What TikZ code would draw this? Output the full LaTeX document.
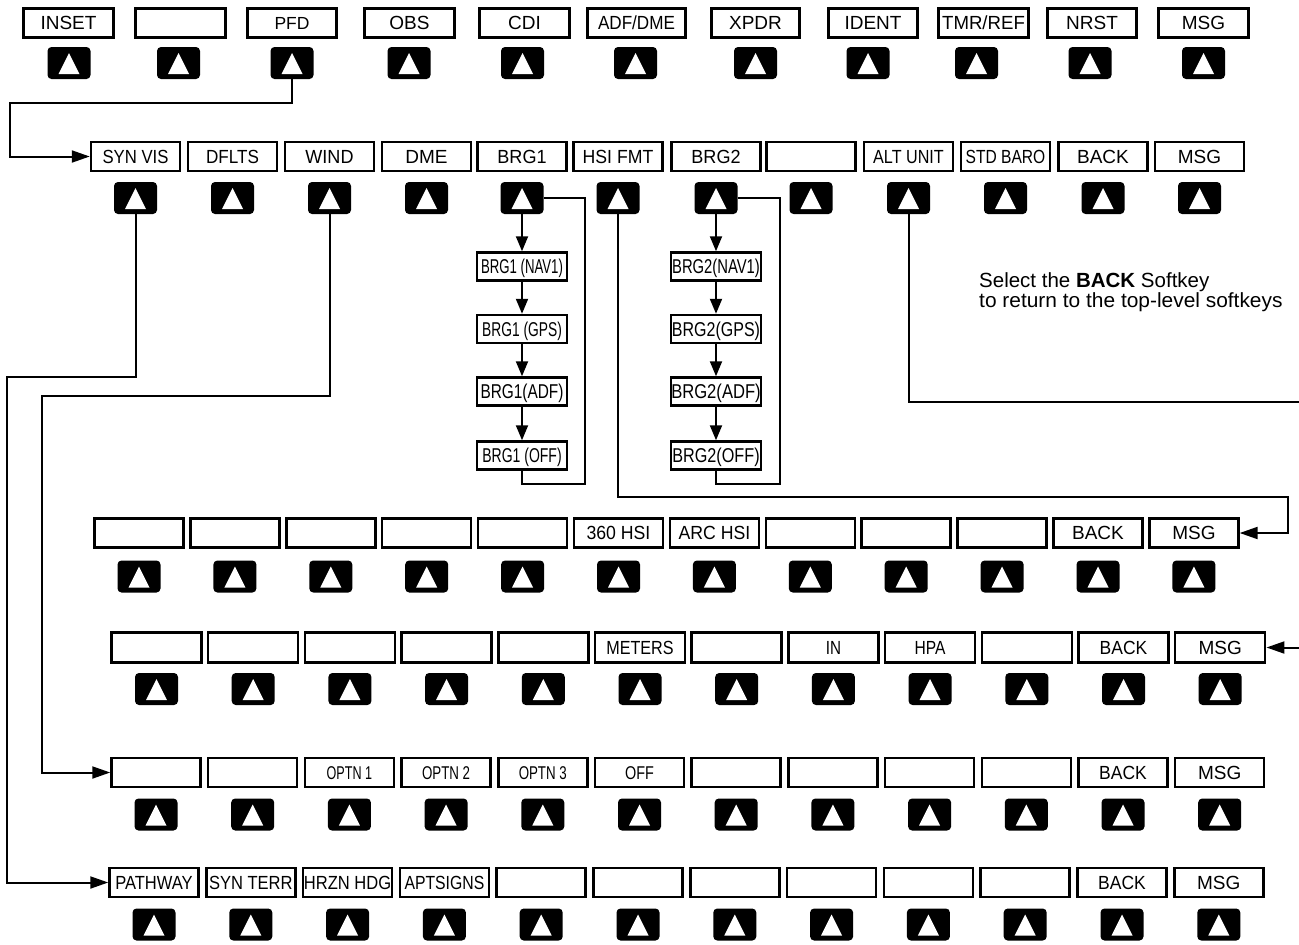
\documentclass[tikz,border=0pt]{standalone}
\usepackage{fontspec}
\setmainfont{Liberation Sans}
\usepackage{graphicx}
\usetikzlibrary{arrows.meta}
\newcommand\sx[2]{\scalebox{#1}[1]{#2}}
\newcommand\fsz[1]{\fontsize{#1}{#1}\selectfont}
\tikzset{
 skbox/.style={draw, line width=2.5pt, minimum width=89pt, minimum height=29pt, inner sep=0pt, text height=13.6pt, text depth=0pt, font=\fsz{19}},
 brgbox/.style={skbox, minimum width=90pt, minimum height=28pt, font=\fsz{20}, text height=14.3pt},
 key/.style={fill=black, rounded corners=4pt, minimum width=43pt, minimum height=32pt, inner sep=0pt,
   path picture={\fill[white, sharp corners] ([xshift=-10.5pt,yshift=-11pt]path picture bounding box.center) -- ([xshift=10.5pt,yshift=-11pt]path picture bounding box.center) -- ([yshift=10pt]path picture bounding box.center) -- cycle;}},
 link/.style={line width=2pt},
 arr/.style={link, -{Triangle[length=18pt,width=12pt]}},
 varr/.style={link, -{Triangle[length=15pt,width=12pt]}},
}
\begin{document}
\begin{tikzpicture}[x=1pt,y=-1pt]
\clip (0,0) rectangle (1299,945);
\fill[white] (0,0) rectangle (1299,945);
% row 1
\foreach \i/\cx/\w/\kx/\t in {
 1/68.5/90/69/INSET,
 2/180.5/90/178.5/{},
 3/292/89/292/{\fsz{17.5}PFD},
 4/409.5/90/409/OBS,
 5/524.5/90/522.5/CDI,
 6/636.5/98/635.5/{\sx{0.9}{ADF/DME}},
 7/755.5/88/755.5/XPDR,
 8/873/89/868/IDENT,
 9/983.5/90/976.5/{\sx{0.98}{TMR/REF}},
 10/1092/89/1090/NRST,
 11/1203.5/90/1203.5/MSG}
{\node[skbox, minimum width=\w pt] (r1b\i) at (\cx,23) {\t};
 \node[key] (r1k\i) at (\kx,63) {};}
% row 2
\foreach \i/\cx/\t in {1/135.5/{\sx{0.88}{SYN VIS}}, 2/232.5/{\sx{0.9}{DFLTS}}, 3/329.5/{\sx{0.95}{WIND}}, 4/426.5/DME, 5/522/{\sx{0.95}{BRG1}}, 6/618/{\sx{0.93}{HSI FMT}}, 7/716/{\sx{0.95}{BRG2}}, 8/811/{}, 9/908.5/{\sx{0.85}{ALT UNIT}}, 10/1005.5/{\sx{0.82}{STD BARO}}, 11/1103/BACK, 12/1199.5/MSG}
{\node[skbox] (r2b\i) at (\cx,156.5) {\t};
 \node[key] (r2k\i) at (\cx,198) {};}
% row 3 (HSI FMT)
\foreach \t [count=\i] in {{},{},{},{},{},{\sx{0.93}{360 HSI}},{\sx{0.93}{ARC HSI}},{},{},{},BACK,MSG}
{\pgfmathsetmacro\cx{139+95.9*(\i-1)}
 \node[skbox] (r3b\i) at (\cx,533) {\t};
 \node[key] (r3k\i) at (\cx,576.5) {};}
% row 4 (ALT UNIT)
\foreach \t [count=\i] in {{},{},{},{},{},{\sx{0.85}{METERS}},{},{\sx{0.8}{IN}},{\sx{0.82}{HPA}},{},{\sx{0.92}{BACK}},MSG}
{\pgfmathsetmacro\cx{156.5+96.7*(\i-1)}
 \node[skbox, minimum width=90pt, minimum height=30pt] (r4b\i) at (\cx,647.5) {\t};
 \node[key] (r4k\i) at (\cx,689) {};}
% row 5 (WIND)
\foreach \t [count=\i] in {{},{},{\fsz{18.5}\sx{0.68}{OPTN 1}},{\fsz{18.5}\sx{0.72}{OPTN 2}},{\fsz{18.5}\sx{0.72}{OPTN 3}},{\fsz{18.5}\sx{0.78}{OFF}},{},{},{},{},{\sx{0.92}{BACK}},MSG}
{\pgfmathsetmacro\cx{156+96.7*(\i-1)}
 \node[skbox] (r5b\i) at (\cx,772.5) {\t};
 \node[key] (r5k\i) at (\cx,814.5) {};}
% row 6 (SYN VIS)
\foreach \t [count=\i] in {{\sx{0.87}{PATHWAY}},{\sx{0.87}{SYN TERR}},{\sx{0.87}{HRZN HDG}},{\sx{0.83}{APTSIGNS}},{},{},{},{},{},{},{\sx{0.92}{BACK}},MSG}
{\pgfmathsetmacro\cx{154+96.8*(\i-1)}
 \node[skbox] (r6b\i) at (\cx,882.5) {\t};
 \node[key] (r6k\i) at (\cx,924.5) {};}
% bearing chains
\foreach \n/\y/\ta/\sa/\tb/\sb in {n/266.5/{BRG1 (NAV1)}/0.66/{BRG2(NAV1)}/0.74, g/329/{BRG1 (GPS)}/0.69/{BRG2(GPS)}/0.8, a/391.5/{BRG1(ADF)}/0.77/{BRG2(ADF)}/0.83, o/455.5/{BRG1 (OFF)}/0.7/{BRG2(OFF)}/0.81}
{\node[brgbox] (b1\n) at (522,\y) {\sx{\sa}{\ta}};
 \node[brgbox] (b2\n) at (716,\y) {\sx{\sb}{\tb}};}
\foreach \b/\k in {1/5,2/7}{
 \draw[varr] (r2k\k.south) -- (b\b n.north);
 \draw[varr] (b\b n.south) -- (b\b g.north);
 \draw[varr] (b\b g.south) -- (b\b a.north);
 \draw[varr] (b\b a.south) -- (b\b o.north);}
\coordinate (c1) at (585,484);
\coordinate (c2) at (780,484);
\draw[link] (b1o.south) |- (c1) |- (r2k5.east);
\draw[link] (b2o.south) |- (c2) |- (r2k7.east);
% connectors
\coordinate (p1) at (10,103);
\coordinate (p2) at (7,377);
\coordinate (p3) at (42,396);
\coordinate (p4) at (1288,497);
\coordinate (p5) at (1306,402);
\draw[arr] (r1k3.south) |- (p1) |- (r2b1.west);
\draw[arr] (r2k1.south) |- (p2) |- (r6b1.west);
\draw[arr] (r2k3.south) |- (p3) |- (r5b1.west);
\draw[arr] (r2k6.south) |- (p4) |- (r3b12.east);
\draw[arr] (r2k9.south) |- (p5) |- (r4b12.east);
% note
\node[anchor=north west, inner sep=0pt, align=left, font=\fontsize{20.5}{18.5}\selectfont] (note) at (979,272)
 {Select the \textbf{BACK} Softkey\\\sx{1.02}{to return to the top-level softkeys}};
\end{tikzpicture}
\end{document}
